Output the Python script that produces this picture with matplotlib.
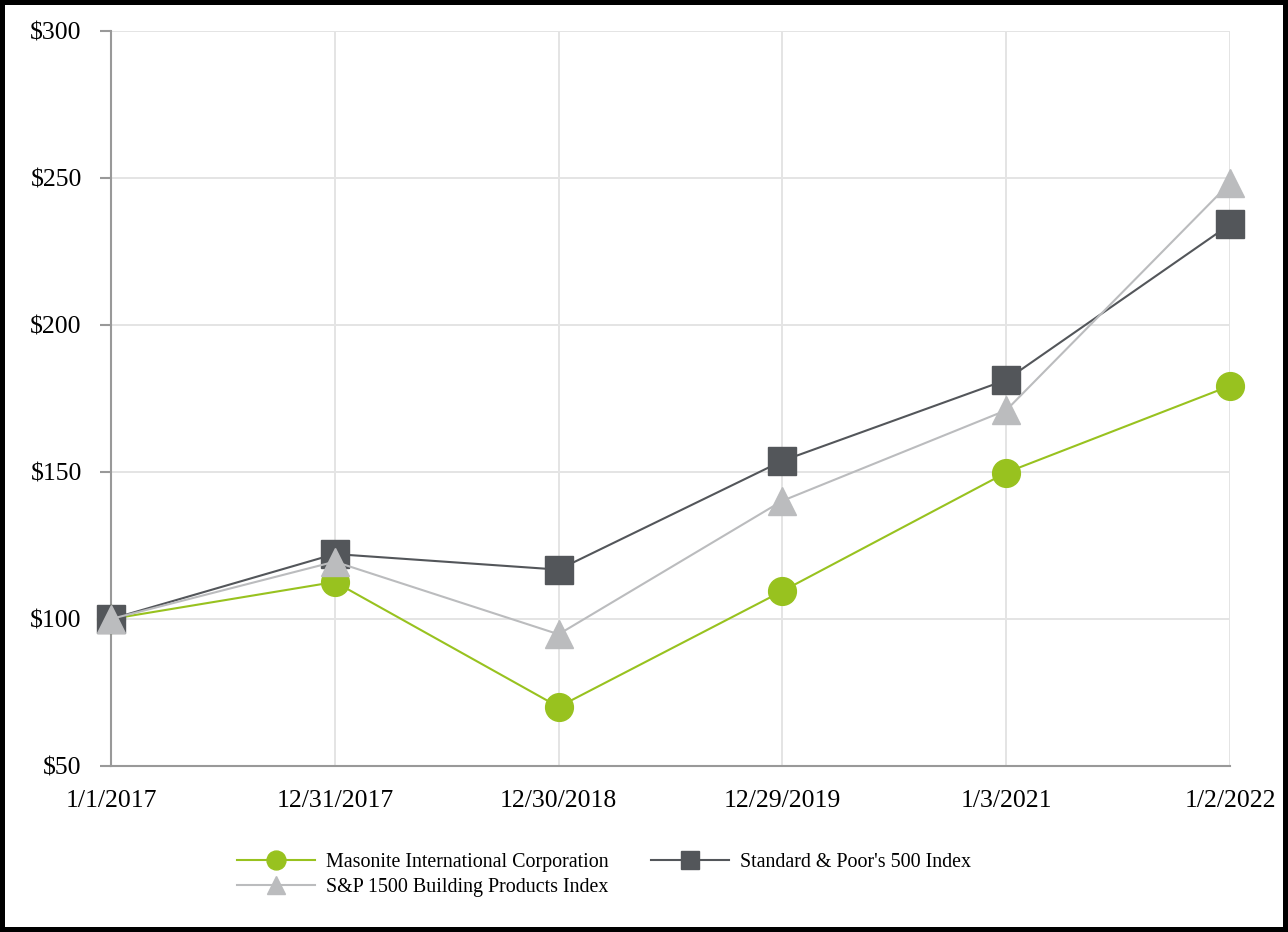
import matplotlib
matplotlib.use("Agg")
import matplotlib.pyplot as plt

dates = ["1/1/2017", "12/31/2017", "12/30/2018", "12/29/2019", "1/3/2021", "1/2/2022"]
masonite = [100, 112.6, 70.1, 109.5, 149.8, 179.3]
sp500 = [100, 122.1, 116.8, 153.8, 181.3, 234.2]
sp1500_bldg = [100, 119.5, 94.8, 140.2, 171.0, 248.3]
yticks = [50, 100, 150, 200, 250, 300]

plt.rcParams['font.family'] = ['Liberation Serif', 'DejaVu Serif']

fig = plt.figure(figsize=(12.88, 9.32), dpi=100)
fig.patch.set_edgecolor('black')
fig.patch.set_linewidth(6)
ax = fig.add_axes([111/1288, 1-766/932, (1230-111)/1288, (766-31)/932])

x = list(range(len(dates)))
l1, = ax.plot(x, masonite, color='#98C21F', lw=1.5, marker='o', ms=20,
              label='Masonite International Corporation', clip_on=False, zorder=3)
l3, = ax.plot(x, sp500, color='#53565A', lw=1.5, marker='s', ms=20,
              label="Standard & Poor's 500 Index", clip_on=False, zorder=4)
l2, = ax.plot(x, sp1500_bldg, color='#BBBCBE', lw=1.5, marker='^', ms=20,
              label='S&P 1500 Building Products Index', clip_on=False, zorder=5)

ax.set_xlim(0, len(dates)-1)
ax.set_ylim(50, 300)
ax.set_xticks(x)
ax.set_xticklabels(dates)
ax.set_yticks(yticks)
ax.set_yticklabels(['${}'.format(v) for v in yticks])

ax.grid(True, color='#E4E4E4', lw=1.4, zorder=0)
ax.set_axisbelow(True)
for s in ['top', 'right']:
    ax.spines[s].set_visible(False)
for s in ['left', 'bottom']:
    ax.spines[s].set_color('#999999')
    ax.spines[s].set_linewidth(1.5)

ax.tick_params(axis='x', length=0, pad=17, labelsize=18.5)
ax.tick_params(axis='y', length=8, width=1.5, color='#999999', pad=13, labelsize=18.5)

fig.legend(handles=[l1, l2, l3], loc='upper left', bbox_to_anchor=(237/1288, 1-853/932),
           ncol=2, frameon=False, fontsize=14.4, markerscale=0.68, handlelength=3.9,
           handletextpad=0.55, columnspacing=2.1, labelspacing=0.3,
           borderpad=0, borderaxespad=0)

fig.savefig('out.png', dpi=100)
